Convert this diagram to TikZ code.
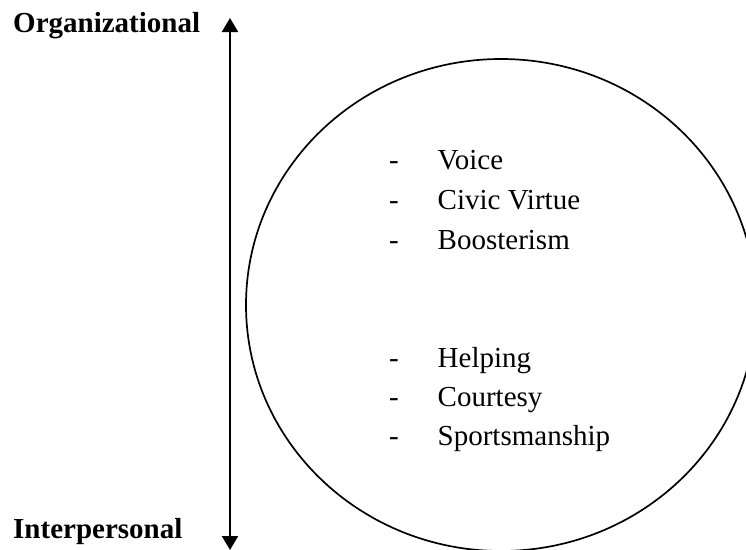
\documentclass[tikz,border=0pt]{standalone}
\usepackage{fontspec}
\setmainfont{Liberation Serif}
\usetikzlibrary{arrows.meta}
\tikzset{
  axislabel/.style={anchor=base west, inner sep=0pt, font=\fontsize{29}{34}\selectfont\bfseries},
  item/.style={anchor=base west, inner sep=0pt, font=\fontsize{29}{34}\selectfont},
  bullet/.style={anchor=base west, inner sep=0pt, font=\fontsize{29}{34}\selectfont},
  axis/.style={line width=2pt, {Triangle[width=16pt,length=14pt]}-{Triangle[width=16pt,length=14pt]}},
  ring/.style={line width=1.7pt}
}
\begin{document}
\begin{tikzpicture}[x=1pt,y=-1pt]
\useasboundingbox (0,0) rectangle (746,549);
\clip (0,0) rectangle (746,549);
\node[axislabel] (org) at (13,32) {Organizational};
\node[axislabel] (inter) at (13,538) {Interpersonal};
\coordinate (atop) at (230,18);
\coordinate (abot) at (230,550);
\draw[axis] (atop) -- (abot);
\coordinate (c) at (501,305);
\draw[ring] (c) ellipse [x radius=255, y radius=246];
\foreach \n/\t/\y in {v/Voice/169, cv/Civic Virtue/209, b/Boosterism/249, h/Helping/367, co/Courtesy/406, s/Sportsmanship/445}{
  \node[bullet] (d\n) at (389,\y) {-};
  \node[item] (\n) at (437.5,\y) {\t};
}
\end{tikzpicture}
\end{document}
